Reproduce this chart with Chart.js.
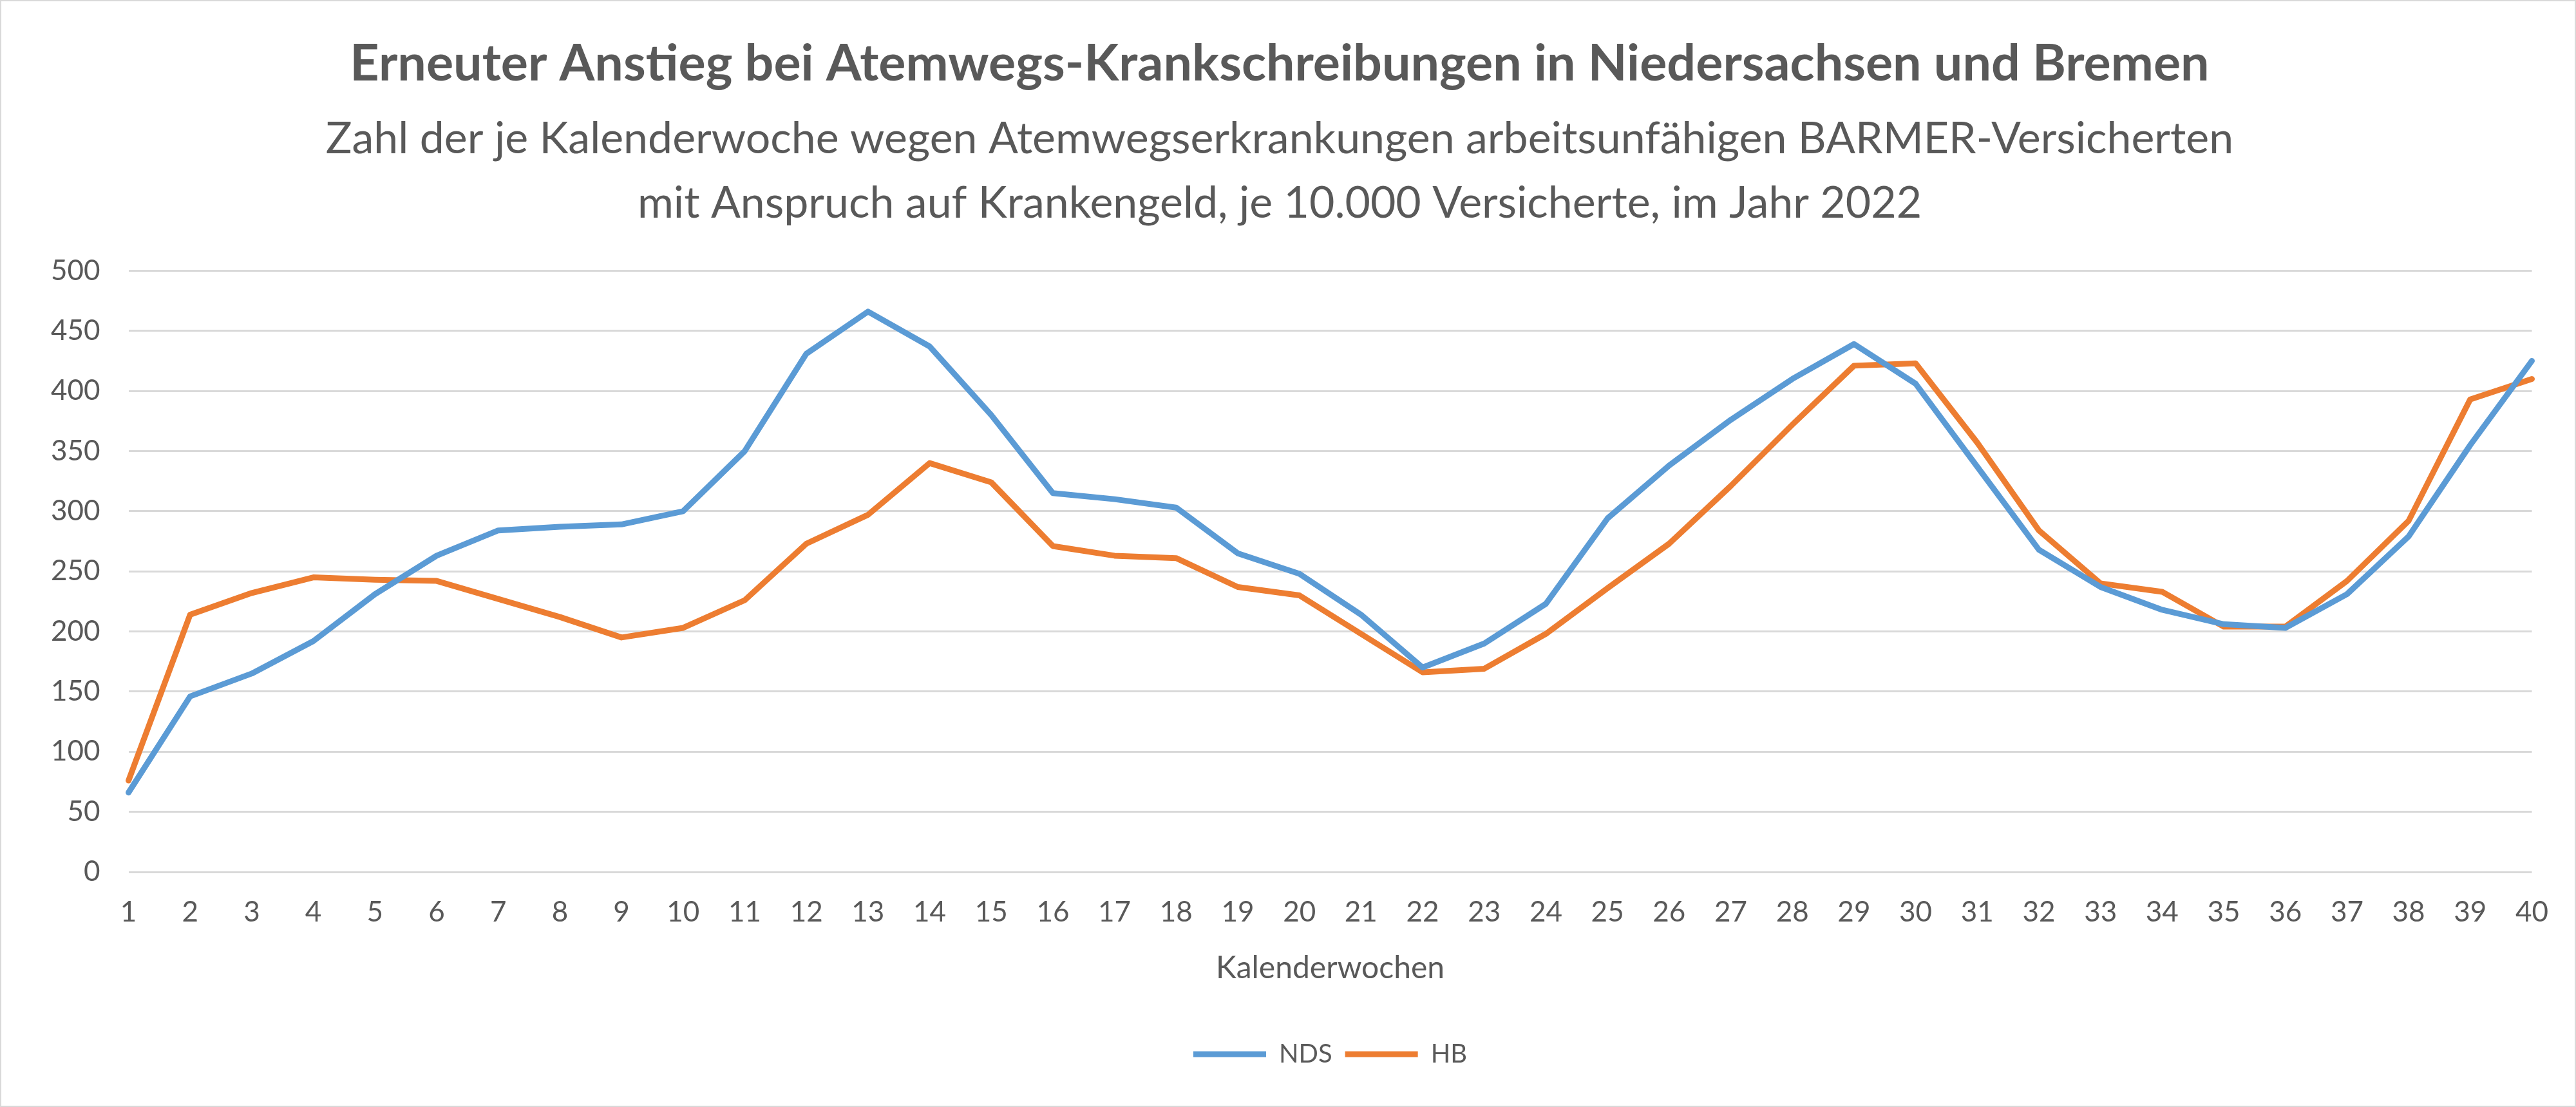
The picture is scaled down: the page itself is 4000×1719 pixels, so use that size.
<!DOCTYPE html>
<html>
<head>
<meta charset="utf-8">
<script src="https://cdn.jsdelivr.net/npm/chart.js@4/dist/chart.umd.min.js"></script>
<style>
  body { margin: 0; background: #fff; }
  #box { width: 4000px; height: 1719px; box-sizing: border-box; border: 2px solid #d9d9d9; }
  canvas { display: block; }
</style>
</head>
<body>
<div id="box"><canvas id="chart" width="3996" height="1715"></canvas></div>
<script>
// Kalenderwochen 1..40
const weeks = ["1","2","3","4","5","6","7","8","9","10","11","12","13","14","15","16","17","18","19","20",
               "21","22","23","24","25","26","27","28","29","30","31","32","33","34","35","36","37","38","39","40"];

// je 10.000 Versicherte
const nds = [66, 146, 165, 192, 231, 263, 284, 287, 289, 300, 350, 431, 466, 437, 380, 315, 310, 303, 265, 248,
             214, 170, 190, 223, 294, 338, 376, 410, 439, 406, 337, 268, 237, 218, 206, 203, 231, 279, 355, 425];
const hb  = [76, 214, 232, 245, 243, 242, 227, 212, 195, 203, 226, 273, 297, 340, 324, 271, 263, 261, 237, 230,
             198, 166, 169, 198, 236, 273, 321, 372, 421, 423, 357, 284, 240, 233, 204, 204, 242, 292, 393, 410];

const yTicks = [0, 50, 100, 150, 200, 250, 300, 350, 400, 450, 500];

const grey = "#595959";
const font = "Lato";

new Chart(document.getElementById("chart"), {
    type: "line",
    data: {
        labels: weeks,
        datasets: [
            { label: "NDS", data: nds, borderColor: "#5b9bd5", backgroundColor: "#5b9bd5" },
            { label: "HB", data: hb, borderColor: "#ed7d31", backgroundColor: "#ed7d31" }
        ].map(d => ({
            ...d,
            borderWidth: 9,
            pointRadius: 0,
            tension: 0,
            fill: false,
            borderJoinStyle: "round",
            borderCapStyle: "round"
        }))
    },
    options: {
        responsive: false,
        animation: false,
        devicePixelRatio: 1,
        layout: { padding: { left: 33, right: 59, top: 0, bottom: 50 } },
        plugins: {
            title: {
                display: true,
                text: "Erneuter Anstieg bei Atemwegs-Krankschreibungen in Niedersachsen und Bremen",
                color: grey,
                font: { family: font, size: 79, weight: "bold", lineHeight: 1.2 },
                padding: { top: 50, bottom: 0 }
            },
            subtitle: {
                display: true,
                text: ["Zahl der je Kalenderwoche wegen Atemwegserkrankungen arbeitsunfähigen BARMER-Versicherten",
                       "mit Anspruch auf Krankengeld, je 10.000 Versicherte, im Jahr 2022"],
                color: grey,
                font: { family: font, size: 68, lineHeight: 1.46 },
                padding: { top: 20, bottom: 55 }
            },
            legend: {
                position: "bottom",
                fullSize: false,
                labels: {
                    color: grey,
                    font: { family: font, size: 40 },
                    usePointStyle: true,
                    pointStyle: "line",
                    pointStyleWidth: 113,
                    boxHeight: 30,
                    padding: 20
                }
            },
            tooltip: { enabled: false }
        },
        scales: {
            x: {
                grid: { display: false, drawTicks: false },
                border: { display: false },
                ticks: {
                    color: grey,
                    font: { family: font, size: 44, lineHeight: 1.0 },
                    padding: 41,
                    autoSkip: false,
                    maxRotation: 0
                },
                title: {
                    display: true,
                    text: "Kalenderwochen",
                    color: grey,
                    font: { family: font, size: 48, lineHeight: 1.0 },
                    padding: { top: 0, bottom: 69 }
                }
            },
            y: {
                min: 0,
                max: 500,
                afterBuildTicks: axis => { axis.ticks = yTicks.map(v => ({ value: v })); },
                grid: { color: "#d9d9d9", lineWidth: 3, drawTicks: false },
                border: { display: false },
                ticks: {
                    color: grey,
                    font: { family: font, size: 44 },
                    padding: 44
                }
            }
        }
    }
});
</script>
</body>
</html>
